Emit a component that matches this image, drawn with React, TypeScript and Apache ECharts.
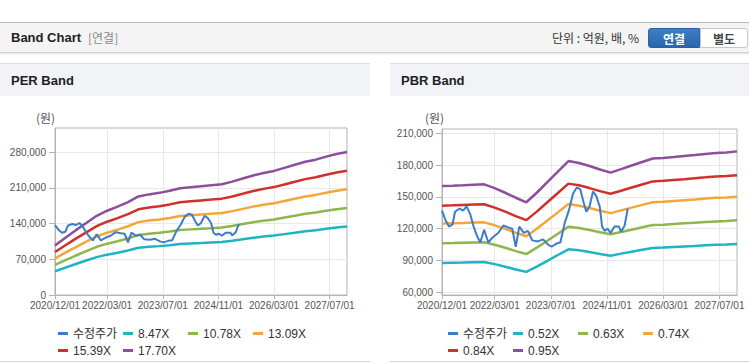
import React, { useEffect, useRef } from 'react';
import * as echarts from 'echarts';

const xStartDate = '2020/12/01';
const xEndDate = '2027/12/01';
const xTickLabels = ['2020/12/01', '2022/03/01', '2023/07/01', '2024/11/01', '2026/03/01', '2027/07/01'];

const perYTicks = [0, 70000, 140000, 210000, 280000];
const pbrYTicks = [60000, 90000, 120000, 150000, 180000, 210000];

const bandDates = [
  '2020/12/01', '2021/03/01', '2021/06/01', '2021/09/01', '2021/12/01',
  '2022/03/01', '2022/06/01', '2022/09/01', '2022/12/01',
  '2023/03/01', '2023/06/01', '2023/09/01', '2023/12/01',
  '2024/03/01', '2024/06/01', '2024/09/01', '2024/12/01',
  '2025/03/01', '2025/06/01', '2025/09/01', '2025/12/01',
  '2026/03/01', '2026/06/01', '2026/09/01', '2026/12/01',
  '2027/03/01', '2027/06/01', '2027/09/01', '2027/12/01',
];

const priceDates = [
  '2020/12/01', '2021/01/01', '2021/02/01', '2021/03/01', '2021/03/22', '2021/05/01', '2021/06/01',
  '2021/07/01', '2021/08/01', '2021/09/01', '2021/10/01', '2021/10/28', '2021/12/01', '2022/01/07',
  '2022/02/15', '2022/04/01', '2022/05/15', '2022/07/01', '2022/08/01', '2022/09/01', '2022/10/01',
  '2022/11/10', '2022/12/15', '2023/01/22', '2023/03/10', '2023/04/25', '2023/06/07', '2023/07/07',
  '2023/08/19', '2023/09/22', '2023/11/01', '2023/12/07', '2024/01/10', '2024/02/13', '2024/03/13',
  '2024/04/10', '2024/05/04', '2024/06/01', '2024/07/01', '2024/07/28', '2024/08/28', '2024/09/19',
  '2024/10/10', '2024/11/07', '2024/12/01', '2025/01/04', '2025/02/13', '2025/03/01', '2025/04/01',
  '2025/04/28',
];
const priceValues = [
  137000, 128000, 122000, 124000, 136000, 139000, 137000,
  141000, 134000, 122000, 113000, 107000, 119000, 107000,
  112000, 116000, 123000, 121000, 120000, 103000, 122000,
  116000, 118000, 109000, 108000, 110000, 105000, 103000,
  106000, 107000, 126000, 138000, 153000, 159000, 157000,
  145000, 136000, 141000, 155000, 151000, 141000, 122000,
  118000, 120000, 116000, 122000, 122000, 117000, 123000,
  139000,
];

const perNames = ['8.47X', '10.78X', '13.09X', '15.39X', '17.70X'];
const per847 = [46400, 53600, 60800, 67500, 74200, 79000, 82800, 87100, 92400, 94300, 95700, 97600, 100000, 101000, 101900, 102900, 103800, 106200, 109100, 112000, 114400, 116300, 119200, 122000, 124900, 126800, 129700, 132100, 134000];
const per1078 = [59100, 68200, 77300, 85900, 94400, 100500, 105400, 110800, 117500, 120000, 121800, 124200, 127300, 128500, 129700, 130900, 132200, 135200, 138900, 142500, 145600, 148000, 151700, 155300, 159000, 161400, 165100, 168100, 170500];
const per1309 = [71700, 82800, 93900, 104300, 114600, 122000, 127900, 134600, 142700, 145700, 147900, 150900, 154600, 156000, 157500, 159000, 160500, 164200, 168600, 173100, 176800, 179700, 184100, 188600, 193000, 196000, 200400, 204100, 207100];
const per1539 = [84300, 97400, 110400, 122600, 134800, 143500, 150400, 158200, 167800, 171300, 173900, 177400, 181700, 183500, 185200, 186900, 188700, 193000, 198200, 203500, 207800, 211300, 216500, 221700, 226900, 230400, 235600, 240000, 243500];
const per1770 = [97000, 112000, 127000, 141000, 155000, 165000, 173000, 182000, 193000, 197000, 200000, 204000, 209000, 211000, 213000, 215000, 217000, 222000, 228000, 234000, 239000, 243000, 249000, 255000, 261000, 265000, 271000, 276000, 280000];

const pbrNames = ['0.52X', '0.63X', '0.74X', '0.84X', '0.95X'];
const pbr052 = [87700, 87900, 88100, 88400, 88600, 86600, 84200, 81600, 79300, 84200, 89700, 95200, 100600, 99600, 98000, 96200, 94600, 96500, 98300, 100100, 101900, 102200, 102700, 103200, 103700, 104300, 104800, 105000, 105600];
const pbr063 = [106300, 106500, 106800, 107100, 107300, 104900, 102100, 98900, 96100, 102100, 108700, 115300, 121900, 120600, 118800, 116600, 114700, 116900, 119100, 121300, 123500, 123800, 124400, 125100, 125700, 126300, 126900, 127300, 127900];
const pbr074 = [124800, 125100, 125400, 125800, 126000, 123200, 119900, 116200, 112900, 119900, 127700, 135400, 143200, 141700, 139500, 136900, 134700, 137300, 139900, 142500, 145000, 145400, 146200, 146900, 147600, 148400, 149100, 149500, 150200];
const pbr084 = [141700, 142000, 142400, 142800, 143100, 139900, 136100, 131900, 128100, 136100, 144900, 153700, 162500, 160900, 158300, 155400, 152900, 155800, 158800, 161700, 164600, 165100, 165900, 166700, 167600, 168400, 169300, 169700, 170500];
const pbr095 = [160300, 160600, 161000, 161500, 161800, 158200, 153900, 149200, 144900, 153900, 163900, 173900, 183800, 181900, 179100, 175800, 172900, 176200, 179600, 182900, 186200, 186700, 187600, 188600, 189500, 190500, 191400, 191900, 192900];

const priceName = '수정주가';
const lineColors = ['#3c7cca', '#1db4c3', '#8fb64c', '#f3a73a', '#d0302c', '#8d4f9b'];

const toMonth = (s: string) => {
  const [y, m, d] = s.split('/').map(Number);
  return (y - 2020) * 12 + (m - 12) + (d - 1) / 30;
};

const LATIN = "'Liberation Sans', 'Noto Sans CJK KR', sans-serif";
const CJK = "'Noto Sans CJK KR', 'Liberation Sans', sans-serif";

function buildOption() {
  const xTickVals = xTickLabels.map(toMonth);
  const xLabelFor = (v: number) => {
    const i = xTickVals.findIndex((t) => Math.abs(t - v) < 0.01);
    return i >= 0 ? xTickLabels[i] : '';
  };
  const mkX = (gridIndex: number) => ({
    type: 'value',
    gridIndex,
    min: toMonth(xStartDate),
    max: toMonth(xEndDate),
    axisLine: { show: true, lineStyle: { color: '#b4b4b4' } },
    axisTick: { show: true, customValues: xTickVals, length: 4, lineStyle: { color: '#b4b4b4' } },
    axisLabel: {
      customValues: xTickVals,
      formatter: (v: number) => xLabelFor(v),
      color: '#555',
      fontSize: 10,
      fontFamily: LATIN,
      margin: 5,
      showMinLabel: true,
      hideOverlap: false,
    },
    splitLine: { show: true, lineStyle: { color: '#e8e8e8' } },
  });
  const mkY = (gridIndex: number, min: number, max: number, ticks: number[]) => ({
    type: 'value',
    gridIndex,
    min,
    max,
    axisLine: { show: true, lineStyle: { color: '#b4b4b4' } },
    axisTick: { show: true, customValues: ticks, length: 6, lineStyle: { color: '#b4b4b4' } },
    axisLabel: {
      customValues: ticks,
      formatter: (v: number) => v.toLocaleString('en-US'),
      color: '#555',
      fontSize: 10,
      fontFamily: LATIN,
      margin: 9,
    },
    splitLine: { show: true, lineStyle: { color: '#e8e8e8' } },
  });
  const bandX = bandDates.map(toMonth);
  const priceX = priceDates.map(toMonth);
  const pair = (xs: number[], ys: number[]) => xs.map((x, i) => [x, ys[i]]);
  const line = (name: string, data: number[][], color: string, idx: number, z: number, width: number) => ({
    type: 'line',
    name,
    xAxisIndex: idx,
    yAxisIndex: idx,
    data,
    showSymbol: false,
    symbol: 'none',
    z,
    color,
    lineStyle: { color, width },
  });
  const perBands = [per847, per1078, per1309, per1539, per1770];
  const pbrBands = [pbr052, pbr063, pbr074, pbr084, pbr095];
  const series: any[] = [];
  series.push(line(priceName, pair(priceX, priceValues), lineColors[0], 0, 5, 2));
  perBands.forEach((b, i) => series.push(line(perNames[i], pair(bandX, b), lineColors[i + 1], 0, 2, 2.5)));
  series.push(line(priceName, pair(priceX, priceValues), lineColors[0], 1, 5, 2));
  pbrBands.forEach((b, i) => series.push(line(pbrNames[i], pair(bandX, b), lineColors[i + 1], 1, 2, 2.5)));

  const legend = (left: number, names: string[]) => ({
    left,
    top: 321,
    width: 270,
    orient: 'horizontal',
    data: names,
    icon: 'rect',
    itemWidth: 10,
    itemHeight: 3,
    itemGap: 2,
    selectedMode: false,
    textStyle: {
      fontSize: 12,
      fontFamily: LATIN,
      color: '#333',
      width: 48,
      lineHeight: 15,
      padding: [0, 0, 0, 0],
    },
  });

  return {
    animation: false,
    backgroundColor: 'transparent',
    grid: [
      { left: 55, top: 128, width: 292, height: 167, show: true, borderColor: '#b4b4b4', borderWidth: 1, backgroundColor: '#fff' },
      { left: 442, top: 129, width: 295, height: 166, show: true, borderColor: '#b4b4b4', borderWidth: 1, backgroundColor: '#fff' },
    ],
    xAxis: [mkX(0), mkX(1)],
    yAxis: [mkY(0, 0, 327000, perYTicks), mkY(1, 57500, 214000, pbrYTicks)],
    legend: [legend(53, [priceName, ...perNames]), legend(443, [priceName, ...pbrNames])],
    graphic: [
      { type: 'text', left: 36, top: 111, style: { text: '(원)', fill: '#555', font: `12px ${CJK}` } },
      { type: 'text', left: 425, top: 111, style: { text: '(원)', fill: '#555', font: `12px ${CJK}` } },
    ],
    series,
  };
}

export default function App() {
  const ref = useRef<HTMLDivElement>(null);
  useEffect(() => {
    if (!ref.current) return;
    const chart = echarts.init(ref.current, null, { renderer: 'svg' });
    chart.setOption(buildOption() as any);
    return () => chart.dispose();
  }, []);

  const panel = (left: number, width: number, title: string) => (
    <div
      style={{
        position: 'absolute',
        left,
        top: 63,
        width,
        height: 299,
        background: '#fff',
        borderTop: '1px solid #dedede',
        borderBottom: '1px solid #d6d6d6',
        boxSizing: 'border-box',
      }}
    >
      <div
        style={{
          height: 32,
          background: '#f1f3f7',
          display: 'flex',
          alignItems: 'center',
          paddingLeft: 11,
          fontWeight: 'bold',
          fontSize: 13,
          color: '#222',
          fontFamily: LATIN,
        }}
      >
        {title}
      </div>
    </div>
  );

  return (
    <div
      style={{
        position: 'absolute',
        left: 0,
        top: 0,
        width: 749,
        height: 364,
        background: '#fff',
        overflow: 'hidden',
        fontFamily: LATIN,
      }}
    >
      <div
        style={{
          position: 'absolute',
          left: 0,
          top: 22,
          width: 749,
          height: 31,
          background: '#f4f4f4',
          borderTop: '1px solid #b9b9b9',
          borderBottom: '1px solid #cfcfcf',
          boxShadow: '0 1px 2px rgba(0,0,0,0.12)',
          boxSizing: 'border-box',
        }}
      >
        <span style={{ position: 'absolute', left: 11, top: 7, fontSize: 13, fontWeight: 'bold', color: '#222' }}>
          Band Chart
        </span>
        <span style={{ position: 'absolute', left: 88, top: 7, fontSize: 12, color: '#8a8a8a', fontFamily: CJK, lineHeight: '16px' }}>
          [연결]
        </span>
        <span style={{ position: 'absolute', left: 552, top: 7, fontSize: 12, color: '#333', fontFamily: CJK, lineHeight: '16px' }}>
          단위 : 억원, 배, %
        </span>
        <div
          style={{
            position: 'absolute',
            left: 648,
            top: 5,
            width: 52,
            height: 20,
            background: 'linear-gradient(#3d7fc4, #2a66ab)',
            borderRadius: '3px 0 0 3px',
            color: '#fff',
            fontWeight: 'bold',
            fontSize: 12,
            fontFamily: CJK,
            display: 'flex',
            alignItems: 'center',
            justifyContent: 'center',
            boxSizing: 'border-box',
            border: '1px solid #2a62a3',
          }}
        >
          연결
        </div>
        <div
          style={{
            position: 'absolute',
            left: 700,
            top: 5,
            width: 48,
            height: 20,
            background: '#fff',
            borderRadius: '0 3px 3px 0',
            color: '#444',
            fontWeight: 'bold',
            fontSize: 12,
            fontFamily: CJK,
            display: 'flex',
            alignItems: 'center',
            justifyContent: 'center',
            boxSizing: 'border-box',
            border: '1px solid #c8c8c8',
          }}
        >
          별도
        </div>
      </div>
      {panel(0, 370, 'PER Band')}
      {panel(390, 359, 'PBR Band')}
      <div ref={ref} style={{ position: 'absolute', left: 0, top: 0, width: 749, height: 364 }} />
    </div>
  );
}
